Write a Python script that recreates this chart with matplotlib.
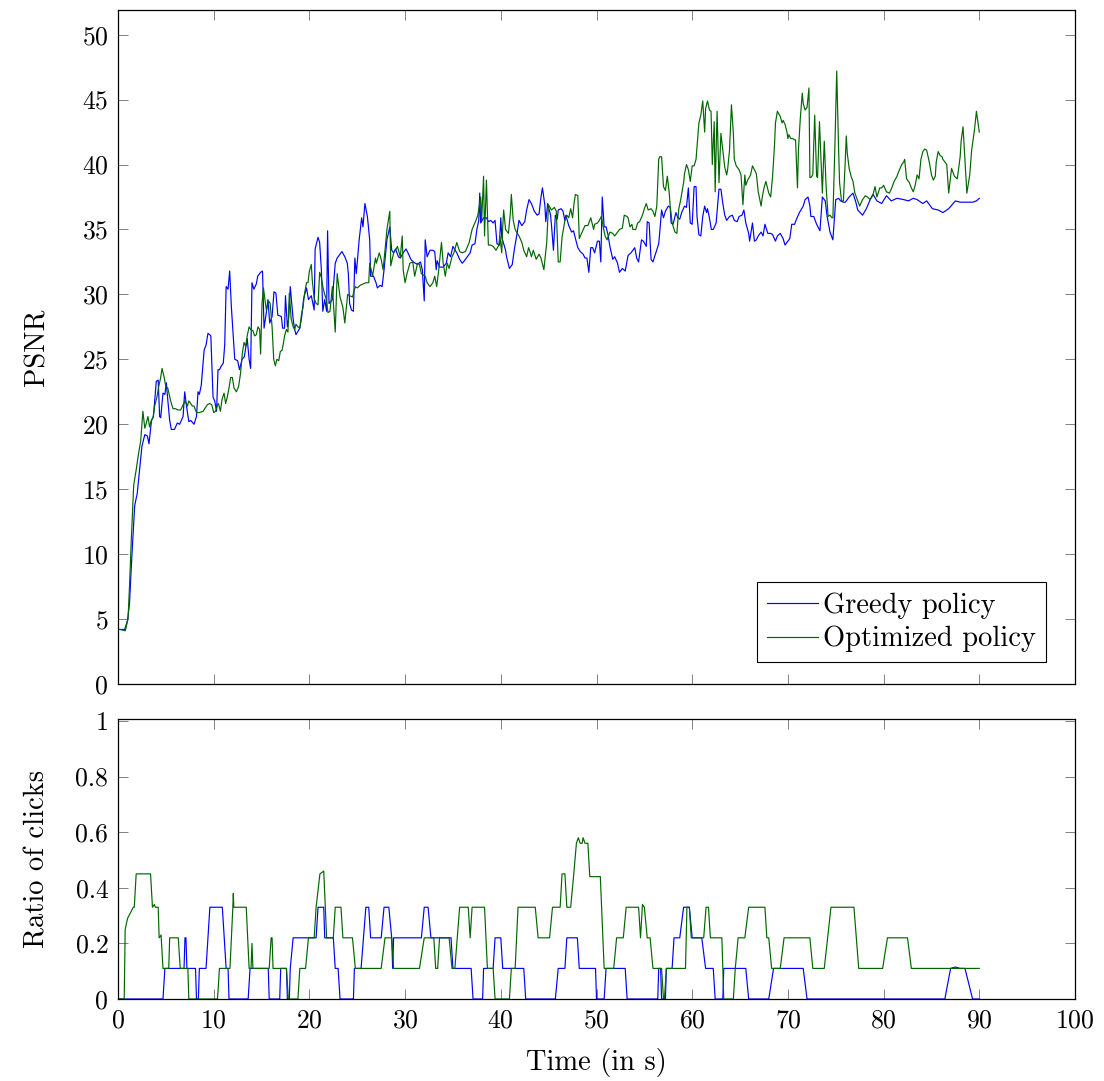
import matplotlib
matplotlib.use("Agg")
import matplotlib.pyplot as plt
from matplotlib.ticker import FuncFormatter

# PSNR over time, greedy policy (blue)
t_greedy = [0.2, 0.7, 1.0, 1.2, 1.46, 1.74, 1.9, 2.0, 2.26, 2.5, 2.8, 3.07, 3.24, 3.5, 3.7, 4.0, 4.2, 4.35, 4.46, 4.7,
            4.9, 5.05, 5.2, 5.4, 5.57, 5.9, 6.2, 6.44, 6.8, 6.97, 7.14, 7.4, 7.6, 7.94, 8.2, 8.36, 8.5, 8.7, 9.0, 9.2,
            9.4, 9.58, 9.7, 9.93, 10.1, 10.3, 10.45, 10.6, 10.8, 11.0, 11.15, 11.3, 11.5, 11.67, 11.84, 12.0, 12.2, 12.5, 12.7, 12.96,
            13.2, 13.5, 13.7, 13.86, 14.0, 14.2, 14.45, 14.6, 14.9, 15.1, 15.26, 15.5, 15.67, 15.85, 16.1, 16.3, 16.5, 16.7, 17.07, 17.2,
            17.4, 17.5, 17.7, 17.83, 18.0, 18.3, 18.46, 18.6, 19.0, 19.2, 19.4, 19.7, 19.9, 20.2, 20.5, 20.6, 20.9, 21.07, 21.25, 21.4,
            21.6, 21.8, 21.9, 22.05, 22.4, 22.7, 22.9, 23.4, 23.7, 23.96, 24.07, 24.2, 24.4, 24.6, 24.75, 24.9, 25.2, 25.46, 25.6, 25.8,
            26.06, 26.3, 26.4, 26.7, 26.96, 27.1, 27.4, 27.6, 27.8, 28.1, 28.4, 28.6, 28.8, 29.0, 29.3, 29.5, 29.8, 30.1, 30.3, 30.6,
            30.85, 31.3, 31.6, 31.8, 32.0, 32.1, 32.3, 32.6, 32.9, 33.1, 33.25, 33.35, 33.6, 33.98, 34.3, 34.5, 34.75, 35.0, 35.4, 35.7,
            35.97, 36.2, 36.5, 36.8, 37.0, 37.3, 37.5, 37.7, 37.8, 37.9, 38.2, 38.5, 38.7, 38.95, 39.2, 39.4, 39.6, 39.85, 40.0, 40.1,
            40.3, 40.5, 40.6, 40.9, 41.2, 41.4, 41.7, 41.9, 42.2, 42.5, 42.7, 42.95, 43.2, 43.5, 43.8, 44.0, 44.2, 44.35, 44.6, 44.7,
            44.9, 45.2, 45.3, 45.5, 45.7, 45.9, 46.0, 46.3, 46.5, 46.7, 46.8, 47.1, 47.4, 47.6, 47.8, 48.05, 48.3, 48.6, 48.8, 49.0,
            49.2, 49.4, 49.6, 49.8, 50.1, 50.3, 50.45, 50.6, 50.8, 51.0, 51.2, 51.4, 51.7, 51.9, 52.2, 52.4, 52.7, 53.0, 53.3, 53.6,
            54.0, 54.2, 54.4, 54.7, 54.9, 55.2, 55.3, 55.5, 55.7, 55.9, 56.2, 56.5, 56.6, 56.8, 57.0, 57.2, 57.5, 57.7, 57.8, 58.0,
            58.3, 58.5, 58.7, 58.9, 59.2, 59.4, 59.6, 59.8, 60.0, 60.2, 60.4, 60.5, 60.7, 60.9, 61.1, 61.3, 61.5, 61.6, 61.8, 62.0,
            62.2, 62.5, 62.6, 62.8, 63.0, 63.2, 63.4, 63.6, 63.9, 64.2, 64.4, 64.7, 64.9, 65.2, 65.4, 65.6, 65.9, 66.0, 66.3, 66.5,
            66.7, 66.9, 67.2, 67.4, 67.6, 67.9, 68.2, 68.4, 68.7, 68.9, 69.2, 69.5, 69.7, 70.0, 70.2, 70.4, 70.7, 70.9, 71.2, 71.6,
            71.8, 72.1, 72.3, 72.4, 72.7, 73.0, 73.35, 73.6, 73.9, 74.1, 74.4, 74.7, 75.0, 75.3, 75.5, 75.8, 76.0, 76.4, 76.8, 77.1,
            77.3, 77.8, 78.2, 78.6, 78.9, 79.3, 79.8, 80.3, 80.8, 81.4, 82.1, 82.6, 83.1, 83.5, 84.1, 84.5, 85.1, 85.7, 86.2, 86.8,
            87.5, 88.0, 88.7, 89.3, 89.7, 90.0]
psnr_greedy = [4.2, 4.2, 4.9, 6.2, 10.0, 13.7, 14.3, 14.6, 16.5, 18.3, 19.2, 19.1, 18.5, 20.3, 20.6, 23.3, 23.4, 20.6, 20.5, 22.4,
               22.3, 23.2, 21.9, 20.3, 19.6, 19.6, 20.1, 20.0, 20.6, 22.5, 21.5, 20.2, 20.3, 20.0, 20.6, 22.5, 22.3, 23.0, 25.7, 26.1,
               27.0, 26.9, 26.8, 22.1, 21.8, 21.0, 24.2, 24.2, 24.5, 24.7, 26.1, 30.6, 30.4, 31.8, 29.1, 27.3, 25.0, 24.9, 24.2, 25.0,
               25.2, 26.6, 25.0, 24.3, 30.9, 30.4, 30.8, 31.4, 31.7, 31.8, 27.4, 28.6, 29.6, 27.8, 28.3, 30.2, 30.1, 28.4, 28.3, 27.4,
               27.4, 29.9, 27.5, 28.1, 30.6, 28.1, 27.3, 26.9, 27.4, 28.3, 29.7, 30.5, 29.6, 29.9, 28.8, 33.5, 34.4, 34.0, 31.9, 28.7,
               29.6, 28.7, 34.9, 29.3, 29.6, 32.4, 32.8, 33.3, 32.9, 32.4, 31.6, 29.3, 28.8, 28.7, 32.8, 31.6, 34.2, 35.9, 35.2, 37.0,
               36.0, 34.2, 31.4, 31.4, 30.9, 30.5, 30.7, 30.6, 31.9, 34.2, 35.2, 33.4, 33.2, 33.5, 32.9, 32.8, 33.2, 33.5, 33.2, 32.7,
               32.5, 32.3, 32.5, 31.9, 29.5, 34.2, 32.9, 33.4, 33.4, 33.3, 31.9, 32.6, 32.1, 32.1, 32.4, 33.2, 32.9, 33.7, 33.2, 32.7,
               32.4, 32.6, 32.9, 33.2, 33.8, 33.9, 35.0, 35.7, 37.8, 35.5, 35.9, 35.9, 35.6, 35.7, 35.5, 35.7, 33.9, 33.8, 35.9, 34.4,
               33.9, 33.4, 32.9, 32.0, 32.3, 33.4, 34.7, 35.7, 35.3, 35.6, 36.5, 37.3, 37.0, 36.4, 36.1, 36.2, 37.5, 38.2, 36.9, 35.6,
               37.0, 36.1, 35.3, 33.4, 36.1, 35.8, 36.5, 36.6, 36.4, 35.7, 36.1, 35.3, 34.8, 34.9, 34.3, 33.6, 33.3, 33.1, 32.8, 32.8,
               31.7, 33.6, 33.6, 33.2, 34.1, 34.1, 32.5, 37.5, 35.2, 35.2, 34.6, 33.7, 32.7, 32.9, 32.4, 31.7, 32.0, 31.8, 33.0, 33.2,
               33.6, 32.8, 32.5, 34.2, 34.1, 33.7, 35.6, 35.5, 32.7, 32.5, 33.2, 33.9, 34.7, 36.5, 35.9, 36.4, 36.8, 36.7, 35.5, 35.4,
               36.3, 35.9, 35.8, 36.3, 36.8, 36.7, 38.2, 35.5, 35.4, 38.3, 38.3, 36.0, 34.6, 34.5, 36.0, 36.8, 36.3, 36.6, 35.9, 35.0,
               35.0, 35.5, 36.4, 38.1, 38.1, 37.0, 36.1, 35.7, 36.0, 36.1, 35.7, 35.6, 36.0, 36.1, 36.5, 35.5, 34.7, 34.1, 35.5, 34.1,
               34.2, 34.5, 34.8, 34.5, 35.4, 34.7, 34.7, 34.6, 34.1, 34.5, 34.7, 34.3, 33.8, 34.1, 34.3, 35.4, 35.4, 35.8, 36.3, 36.8,
               37.3, 37.5, 36.8, 36.0, 36.0, 35.4, 34.9, 37.5, 37.2, 36.0, 34.8, 34.2, 37.3, 37.4, 37.2, 37.1, 37.1, 37.5, 37.8, 37.1,
               36.5, 36.1, 36.6, 37.3, 37.7, 37.2, 37.0, 37.6, 37.2, 37.4, 37.3, 37.2, 37.4, 37.3, 37.0, 37.2, 36.6, 36.5, 36.3, 36.6,
               37.2, 37.1, 37.1, 37.1, 37.2, 37.4]

# PSNR over time, optimized policy (green)
t_opt = [0.2, 0.77, 1.05, 1.2, 1.4, 1.64, 1.9, 2.16, 2.37, 2.6, 2.8, 2.96, 3.13, 3.3, 3.48, 3.66, 3.83, 4.07, 4.25, 4.46,
         4.6, 4.8, 5.0, 5.2, 5.5, 5.75, 6.0, 6.27, 6.55, 6.8, 7.0, 7.25, 7.4, 7.6, 7.77, 7.94, 8.2, 8.5, 8.9, 9.06,
         9.33, 9.58, 9.8, 10.0, 10.2, 10.4, 10.5, 10.7, 10.87, 11.08, 11.25, 11.42, 11.6, 11.77, 11.95, 12.12, 12.37, 12.6, 12.8, 13.0,
         13.17, 13.34, 13.5, 13.7, 13.86, 14.1, 14.28, 14.45, 14.63, 14.8, 14.9, 15.05, 15.2, 15.3, 15.5, 15.74, 15.9, 16.1, 16.27, 16.44,
         16.6, 16.8, 16.96, 17.14, 17.3, 17.4, 17.6, 17.76, 17.9, 18.1, 18.3, 18.46, 18.6, 18.8, 19.0, 19.16, 19.33, 19.5, 19.7, 19.85,
         20.0, 20.2, 20.3, 20.5, 20.7, 20.9, 21.07, 21.25, 21.4, 21.6, 21.77, 21.94, 22.15, 22.4, 22.7, 22.9, 23.2, 23.5, 23.7, 24.0,
         24.2, 24.5, 24.8, 25.0, 25.3, 25.6, 25.9, 26.2, 26.3, 26.6, 26.9, 27.0, 27.3, 27.5, 27.7, 27.9, 28.1, 28.4, 28.5, 28.8,
         29.0, 29.2, 29.5, 29.7, 29.8, 30.0, 30.2, 30.5, 30.8, 31.0, 31.3, 31.5, 31.7, 32.1, 32.3, 32.6, 32.9, 33.1, 33.3, 33.5,
         33.8, 33.98, 34.2, 34.4, 34.6, 34.9, 35.1, 35.4, 35.7, 35.97, 36.3, 36.7, 37.0, 37.4, 37.6, 37.9, 38.0, 38.2, 38.3, 38.5,
         38.7, 38.95, 39.2, 39.5, 39.8, 39.9, 40.1, 40.2, 40.3, 40.5, 40.8, 41.0, 41.1, 41.3, 41.5, 41.65, 41.9, 42.2, 42.4, 42.7,
         42.9, 43.05, 43.2, 43.4, 43.7, 44.0, 44.2, 44.5, 44.8, 44.98, 45.3, 45.6, 45.8, 46.0, 46.2, 46.4, 46.7, 46.9, 47.1, 47.3,
         47.5, 47.65, 47.8, 48.05, 48.2, 48.5, 48.8, 49.1, 49.4, 49.7, 49.8, 50.1, 50.3, 50.5, 50.7, 50.9, 51.1, 51.4, 51.7, 51.9,
         52.2, 52.4, 52.7, 52.9, 53.2, 53.3, 53.5, 53.7, 53.8, 54.1, 54.3, 54.5, 54.8, 55.0, 55.2, 55.4, 55.7, 55.9, 56.1, 56.3,
         56.5, 56.6, 56.8, 57.0, 57.2, 57.4, 57.6, 57.7, 57.9, 58.2, 58.4, 58.6, 58.8, 59.1, 59.2, 59.4, 59.6, 59.8, 59.9, 60.0,
         60.2, 60.4, 60.5, 60.7, 60.9, 61.1, 61.3, 61.4, 61.6, 61.8, 61.97, 62.1, 62.3, 62.4, 62.6, 62.8, 63.0, 63.2, 63.4, 63.6,
         63.7, 63.9, 64.1, 64.3, 64.4, 64.6, 64.8, 64.9, 65.1, 65.3, 65.5, 65.6, 65.8, 66.1, 66.3, 66.5, 66.7, 66.9, 67.2, 67.3,
         67.5, 67.7, 68.0, 68.2, 68.4, 68.6, 68.7, 68.9, 69.2, 69.4, 69.5, 69.7, 69.9, 70.0, 70.1, 70.3, 70.5, 70.7, 70.8, 71.0,
         71.1, 71.3, 71.5, 71.6, 71.8, 72.0, 72.2, 72.3, 72.4, 72.6, 72.8, 73.0, 73.1, 73.3, 73.5, 73.6, 73.8, 74.0, 74.2, 74.4,
         74.6, 74.7, 74.9, 75.1, 75.3, 75.4, 75.6, 75.8, 76.0, 76.1, 76.2, 76.4, 76.6, 76.8, 77.0, 77.3, 77.5, 77.8, 78.1, 78.3,
         78.6, 78.9, 79.1, 79.3, 79.6, 79.8, 80.0, 80.3, 80.6, 80.8, 81.1, 81.4, 81.6, 81.9, 82.1, 82.2, 82.4, 82.7, 82.9, 83.1,
         83.3, 83.5, 83.7, 83.9, 84.1, 84.3, 84.5, 84.8, 85.0, 85.2, 85.4, 85.5, 85.7, 85.9, 86.1, 86.2, 86.4, 86.6, 86.8, 87.1,
         87.3, 87.4, 87.7, 88.0, 88.1, 88.3, 88.5, 88.7, 89.0, 89.2, 89.5, 89.7, 90.0]
psnr_opt = [4.2, 4.1, 5.05, 7.5, 11.3, 15.3, 16.5, 17.8, 18.7, 21.0, 19.7, 20.1, 20.6, 19.8, 20.3, 20.5, 21.4, 22.1, 22.9, 23.6,
            24.3, 23.7, 22.9, 22.8, 21.8, 21.2, 21.2, 21.1, 21.1, 21.5, 21.8, 21.4, 21.8, 21.6, 21.4, 21.4, 20.9, 20.9, 21.0, 21.2,
            21.5, 21.6, 21.5, 20.9, 21.0, 21.5, 21.6, 21.0, 21.9, 22.4, 21.6, 22.1, 22.8, 23.6, 23.6, 22.8, 22.5, 22.9, 23.9, 25.5,
            26.3, 26.0, 26.8, 27.5, 27.3, 27.2, 26.8, 26.9, 27.5, 27.3, 25.4, 29.3, 30.5, 29.9, 28.8, 29.5, 29.3, 27.5, 25.0, 24.5,
            25.0, 24.9, 25.6, 25.7, 26.3, 26.8, 27.3, 27.1, 30.1, 28.1, 27.5, 27.3, 27.7, 27.5, 27.4, 28.4, 29.0, 30.1, 30.9, 30.9,
            31.8, 32.3, 31.1, 29.7, 29.3, 29.2, 31.7, 31.3, 30.6, 30.0, 29.6, 28.6, 28.7, 30.6, 27.1, 31.6, 29.8, 29.0, 27.8, 30.0,
            29.9, 29.8, 30.6, 30.5, 30.7, 30.8, 30.9, 30.9, 32.4, 31.4, 32.8, 32.4, 33.2, 32.7, 31.9, 33.4, 35.0, 36.4, 32.2, 33.2,
            33.4, 33.7, 32.9, 34.5, 31.9, 30.9, 31.6, 32.4, 32.5, 31.4, 32.4, 32.3, 31.6, 31.4, 30.9, 30.6, 30.9, 31.4, 30.6, 31.8,
            34.0, 32.4, 31.4, 32.4, 32.0, 32.9, 33.2, 34.0, 33.3, 33.2, 33.3, 34.0, 35.0, 35.7, 36.1, 37.5, 35.7, 39.1, 34.5, 38.8,
            33.8, 33.8, 33.7, 33.4, 33.8, 34.5, 33.2, 35.2, 36.5, 35.0, 34.7, 36.3, 37.7, 35.7, 35.0, 34.8, 34.5, 34.0, 33.4, 32.9,
            33.6, 33.3, 32.9, 33.4, 32.7, 33.1, 32.8, 31.9, 34.0, 36.9, 36.5, 36.7, 36.4, 32.5, 32.5, 34.4, 35.7, 36.1, 35.9, 36.6,
            35.9, 37.0, 37.7, 37.6, 34.3, 34.8, 35.3, 35.3, 35.9, 35.0, 35.4, 35.5, 35.7, 36.0, 35.2, 34.5, 34.2, 34.8, 34.7, 34.5,
            34.8, 35.0, 35.1, 36.1, 36.0, 35.9, 35.2, 35.4, 35.0, 35.0, 35.5, 35.6, 36.1, 36.6, 37.0, 36.5, 36.6, 36.4, 36.0, 36.8,
            40.4, 40.6, 40.6, 38.3, 38.0, 39.1, 37.8, 36.8, 35.5, 34.8, 34.7, 36.6, 37.3, 38.6, 39.3, 40.0, 39.6, 38.7, 39.3, 39.9,
            39.9, 40.4, 41.3, 43.2, 43.8, 44.9, 42.5, 44.3, 44.9, 44.2, 44.1, 40.0, 43.3, 37.9, 44.1, 38.6, 42.4, 41.1, 39.8, 39.2,
            39.6, 41.1, 44.6, 42.4, 40.4, 39.9, 39.7, 39.6, 39.2, 36.9, 39.2, 38.4, 38.8, 39.2, 39.9, 39.6, 39.3, 37.9, 36.8, 37.4,
            38.2, 38.7, 37.8, 37.5, 39.1, 41.5, 43.2, 44.1, 43.7, 43.2, 43.4, 43.1, 42.5, 42.0, 42.3, 42.0, 42.0, 41.9, 41.9, 38.2,
            41.1, 43.6, 45.5, 44.7, 44.2, 44.4, 45.9, 39.0, 39.0, 39.2, 43.8, 39.1, 39.0, 43.3, 39.6, 37.8, 41.8, 38.2, 36.0, 36.1,
            35.9, 35.9, 41.1, 47.2, 41.1, 38.6, 37.2, 37.2, 40.4, 42.2, 40.9, 39.7, 39.1, 38.7, 37.8, 37.2, 36.8, 37.3, 37.6, 37.5,
            37.3, 37.7, 38.3, 37.5, 38.2, 38.2, 38.4, 37.9, 37.8, 38.1, 38.7, 39.1, 39.5, 40.0, 40.2, 40.4, 38.9, 38.6, 38.2, 37.9,
            38.4, 39.2, 38.9, 40.4, 41.0, 41.2, 41.1, 40.1, 39.2, 38.8, 39.1, 40.2, 41.0, 40.7, 40.6, 40.4, 40.2, 40.0, 37.8, 39.7,
            39.3, 39.1, 38.9, 40.6, 41.8, 42.9, 40.4, 37.8, 39.2, 41.1, 42.7, 44.1, 42.5]

# ratio of clicks, greedy policy
t_clicks_greedy = [0, 4.7, 4.9, 6.9, 7.0, 7.1, 7.2, 8.1, 8.2, 8.4, 8.5, 9.2, 9.6, 10.9, 11.1, 11.3, 11.5, 11.6, 13.6, 13.8,
                   15.7, 15.8, 16.9, 17.0, 17.6, 17.7, 17.9, 18.0, 18.3, 20.7, 20.9, 21.5, 21.6, 22.5, 22.7, 23.0, 23.2, 24.6, 24.7, 25.4,
                   25.9, 26.2, 26.4, 27.5, 27.8, 28.3, 28.6, 28.7, 28.8, 31.7, 32.0, 32.4, 32.7, 34.8, 35.0, 36.9, 37.1, 38.1, 38.2, 39.2,
                   39.4, 40.0, 40.2, 42.4, 42.6, 45.7, 46.0, 46.7, 46.9, 48.0, 48.2, 49.9, 50.0, 50.8, 51.0, 53.0, 53.2, 56.4, 56.5, 56.7,
                   56.8, 57.2, 57.3, 57.9, 58.1, 58.7, 59.1, 59.7, 60.0, 61.0, 61.4, 62.2, 62.4, 63.2, 63.3, 65.6, 65.9, 68.0, 68.5, 71.6,
                   72.0, 86.4, 87.0, 87.5, 88.0, 88.5, 89.3, 90.0]
clicks_greedy = [0, 0, 0.11, 0.11, 0.22, 0.22, 0.11, 0.11, 0, 0, 0.11, 0.11, 0.33, 0.33, 0.22, 0.11, 0.11, 0, 0, 0.11,
                 0.11, 0, 0, 0.11, 0.11, 0, 0, 0.11, 0.22, 0.22, 0.33, 0.33, 0.22, 0.22, 0.11, 0.11, 0, 0, 0.11, 0.11,
                 0.33, 0.33, 0.22, 0.22, 0.33, 0.33, 0.22, 0.11, 0.22, 0.22, 0.33, 0.33, 0.22, 0.22, 0.11, 0.11, 0, 0, 0.11, 0.11,
                 0.22, 0.22, 0.11, 0.11, 0, 0, 0.11, 0.11, 0.22, 0.22, 0.11, 0.11, 0, 0, 0.11, 0.11, 0, 0, 0.11, 0.11,
                 0, 0, 0.11, 0.11, 0.22, 0.22, 0.33, 0.33, 0.22, 0.22, 0.11, 0.11, 0, 0, 0.11, 0.11, 0, 0, 0.11, 0.11,
                 0, 0, 0.11, 0.115, 0.11, 0.11, 0, 0]

# ratio of clicks, optimized policy
t_clicks_opt = [0, 0.65, 0.75, 1.0, 1.6, 1.7, 1.9, 3.4, 3.6, 3.8, 3.9, 4.2, 4.3, 4.5, 4.7, 5.3, 5.4, 6.3, 6.5, 7.3,
                7.4, 10.4, 10.6, 11.7, 12.0, 12.05, 12.1, 13.4, 13.7, 13.9, 14.0, 14.1, 15.8, 16.0, 16.1, 16.2, 17.6, 17.8, 18.8, 19.0,
                19.6, 19.9, 20.5, 20.7, 21.1, 21.5, 21.8, 22.5, 22.7, 23.3, 23.5, 24.5, 24.8, 27.5, 27.9, 28.6, 28.8, 31.5, 32.0, 33.0,
                33.2, 33.4, 33.6, 34.6, 34.9, 35.2, 35.7, 36.6, 36.8, 37.0, 38.3, 38.6, 39.2, 39.4, 40.9, 41.1, 41.5, 41.8, 43.6, 43.9,
                45.1, 45.4, 46.2, 46.4, 46.7, 46.9, 47.3, 47.6, 47.9, 48.1, 48.3, 48.5, 48.6, 48.8, 49.1, 49.3, 50.4, 50.8, 51.8, 52.1,
                52.8, 53.1, 54.4, 54.6, 54.8, 55.0, 55.3, 55.6, 55.9, 56.8, 57.0, 57.1, 57.3, 59.3, 59.45, 59.7, 59.9, 61.2, 61.45, 61.7,
                61.9, 63.1, 63.3, 64.3, 64.5, 64.8, 65.5, 65.9, 67.6, 67.8, 68.0, 68.3, 69.2, 69.6, 72.3, 72.6, 73.8, 74.5, 76.9, 77.4,
                79.9, 80.4, 82.5, 82.9, 90.0]
clicks_opt = [0, 0, 0.25, 0.29, 0.33, 0.33, 0.45, 0.45, 0.33, 0.34, 0.33, 0.33, 0.22, 0.23, 0.11, 0.11, 0.22, 0.22, 0.11, 0.11,
              0, 0, 0.11, 0.11, 0.33, 0.38, 0.33, 0.33, 0.11, 0.11, 0.2, 0.11, 0.11, 0.22, 0.22, 0.11, 0.11, 0, 0, 0.11,
              0.11, 0.22, 0.22, 0.33, 0.45, 0.46, 0.22, 0.22, 0.33, 0.33, 0.22, 0.22, 0.11, 0.11, 0.22, 0.22, 0.11, 0.11, 0.22, 0.22,
              0.11, 0.11, 0.22, 0.22, 0.11, 0.11, 0.33, 0.33, 0.22, 0.33, 0.33, 0.11, 0.11, 0, 0, 0.11, 0.11, 0.33, 0.33, 0.22,
              0.22, 0.33, 0.33, 0.45, 0.45, 0.33, 0.33, 0.44, 0.56, 0.58, 0.56, 0.56, 0.58, 0.56, 0.56, 0.44, 0.44, 0.11, 0.11, 0.22,
              0.22, 0.33, 0.33, 0.22, 0.34, 0.33, 0.22, 0.22, 0.11, 0.11, 0, 0, 0.11, 0.11, 0.33, 0.33, 0.22, 0.22, 0.33, 0.33,
              0.22, 0.22, 0, 0, 0.11, 0.22, 0.22, 0.33, 0.33, 0.22, 0.22, 0.11, 0.11, 0.22, 0.22, 0.11, 0.11, 0.33, 0.33, 0.11,
              0.11, 0.22, 0.22, 0.11, 0.11]

psnr_ticks = [0, 5, 10, 15, 20, 25, 30, 35, 40, 45, 50]
ratio_ticks = [0, 0.2, 0.4, 0.6, 0.8, 1]
time_ticks = [0, 10, 20, 30, 40, 50, 60, 70, 80, 90, 100]

blue = '#0000ff'
green = '#006600'

plt.rcParams['font.family'] = ['cmr10', 'DejaVu Serif']
plt.rcParams['axes.formatter.use_mathtext'] = True
plt.rcParams['font.size'] = 20.5

fig = plt.figure(figsize=(11.04, 10.81), dpi=100)
ax1 = fig.add_axes([118/1104, 1 - 684/1081, 957/1104, 674/1081])
ax2 = fig.add_axes([118/1104, 1 - 999/1081, 957/1104, 280/1081])

ax1.plot(t_greedy, psnr_greedy, color=blue, lw=0.85, label='Greedy policy')
ax1.plot(t_opt, psnr_opt, color=green, lw=0.85, label='Optimized policy')
ax2.plot(t_clicks_greedy, clicks_greedy, color=blue, lw=0.85)
ax2.plot(t_clicks_opt, clicks_opt, color=green, lw=0.85)

ax1.set_xlim(0, 100)
ax1.set_ylim(0, 51.9)
ax1.set_yticks(psnr_ticks)
ax1.set_xticks(time_ticks)
ax1.set_xticklabels([])
ax1.set_ylabel('PSNR')
ax1.yaxis.set_label_coords(-0.071, 0.5)

ax2.set_xlim(0, 100)
ax2.set_ylim(0, 1.007)
ax2.set_yticks(ratio_ticks)
ax2.set_xticks(time_ticks)
ax2.yaxis.set_major_formatter(FuncFormatter(lambda v, p: '%g' % v))
ax2.set_ylabel('Ratio of clicks')
ax2.yaxis.set_label_coords(-0.071, 0.5)
ax2.set_xlabel('Time (in s)')
ax2.xaxis.set_label_coords(0.5, -0.175)

for ax in (ax1, ax2):
    ax.tick_params(direction='in', length=7, width=0.7, color='0.5',
                   top=True, right=True, labelsize=18.5, pad=7)
    for s in ax.spines.values():
        s.set_linewidth(0.9)

leg = ax1.legend(loc='lower right', bbox_to_anchor=(0.97, 0.032), borderaxespad=0,
                 fancybox=False, framealpha=1, edgecolor='black', fontsize=20.5,
                 handlelength=1.8, handletextpad=0.2, borderpad=0.35, labelspacing=0.25)
leg.get_frame().set_linewidth(0.8)

fig.savefig('out.png', dpi=100)
